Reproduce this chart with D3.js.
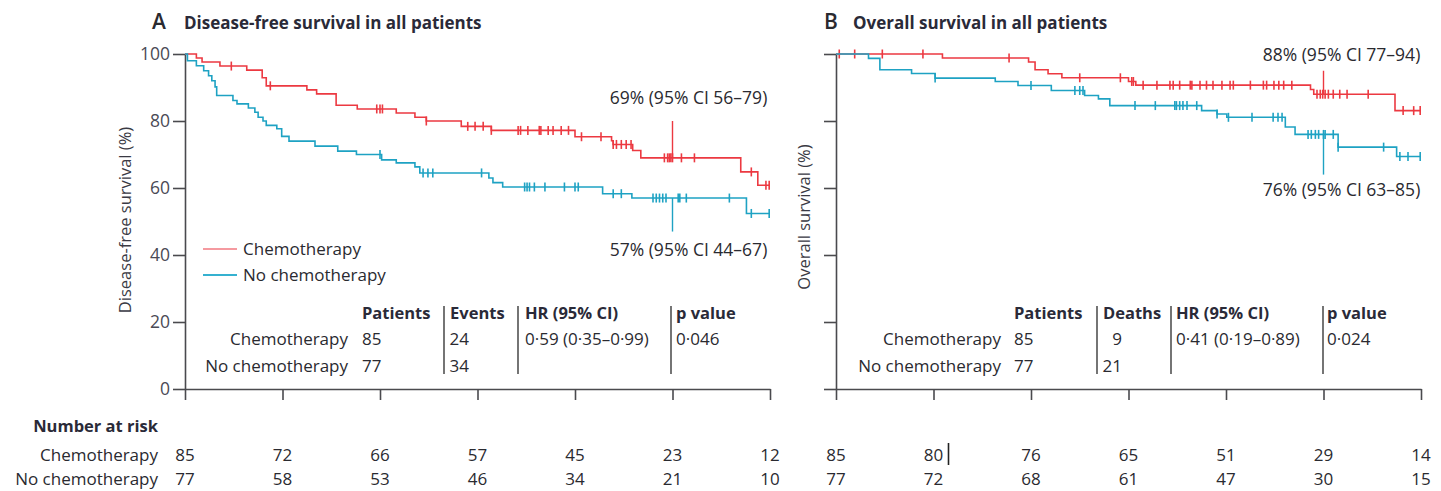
<!DOCTYPE html>
<html>
<head>
<meta charset="utf-8">
<script src="https://cdn.jsdelivr.net/npm/d3@7"></script>
<style>
  body { margin: 0; background: #fff; }
  svg text { font-family: "Open Sans", "DejaVu Sans", sans-serif; fill: #2a2a30; }
</style>
</head>
<body>
<svg id="chart" width="1441" height="491"></svg>
<script>
// Follow-up time in months; axis ticks every 12 months
const timeTicks = [0, 12, 24, 36, 48, 60, 72];
const survTicks = [0, 20, 40, 60, 80, 100];
const maxTime = 72;

// Disease-free survival, Kaplan–Meier steps: [month, survival %]
const dfsChemo = [[0,100],[1.4,98.8],[2.1,97.6],[4.3,96.4],[7.6,95.2],[9.5,92.9],[10.0,90.5],[15.0,89.3],[16.2,88.1],[18.6,84.7],[21.2,83.6],[26.0,82.4],[28.3,81.1],[29.7,80.0],[34.0,78.4],[37.7,77.2],[48.0,75.3],[52.5,74.1],[52.7,73.0],[55.1,71.2],[56.1,69.0],[68.4,64.8],[70.5,60.8]];
const dfsChemoCensored = [5.7,10.5,23.6,24.0,24.3,29.7,34.8,35.7,36.7,37.7,41.0,41.3,42.2,43.6,43.8,44.7,45.3,46.3,47.2,48.8,51.2,52.7,53.1,53.7,54.3,54.9,59.0,59.4,59.6,59.8,60.0,61.1,62.7,69.7,71.5,71.9];
const dfsNone = [[0,100],[0.3,98.0],[1.4,96.5],[2.3,95.0],[2.9,93.5],[3.3,92.0],[3.7,90.2],[3.9,87.6],[5.9,86.1],[6.4,85.1],[7.8,83.9],[8.6,82.6],[9.0,81.1],[9.6,80.0],[10.0,78.7],[11.3,77.7],[11.9,75.4],[12.8,74.0],[16.0,72.5],[18.8,71.0],[21.1,70.0],[24.2,68.4],[26.0,67.5],[28.3,66.3],[28.9,64.5],[37.4,63.0],[37.9,61.6],[39.1,60.3],[51.4,58.3],[55.0,57.0],[69.1,52.4]];
const dfsNoneCensored = [24.0,29.3,29.9,30.5,36.5,41.8,42.1,42.4,43.0,44.3,46.7,48.0,48.4,52.7,53.7,57.6,58.0,58.4,58.8,59.2,60.7,60.9,61.7,67.0,69.7,71.9];

// Overall survival, Kaplan–Meier steps: [month, survival %]
const osChemo = [[0,100],[13.1,98.8],[23.7,97.6],[24.5,95.3],[26.1,94.1],[27.8,92.9],[36.0,91.8],[36.9,90.7],[58.4,89.4],[58.8,88.0],[68.8,83.1]];
const osChemoCensored = [0.4,2.3,5.7,10.7,21.3,30.0,35.0,36.4,36.6,37.8,39.5,41.1,41.5,42.3,43.6,43.8,44.8,45.6,46.4,47.5,48.5,48.9,51.0,52.6,53.0,53.9,54.5,55.1,56.1,59.2,59.6,59.9,60.2,60.6,61.2,62.0,62.9,65.5,69.8,71.1,71.9];
const osNone = [[0,100],[4.0,98.7],[5.4,95.3],[9.3,94.2],[12.2,92.8],[19.6,91.8],[22.4,90.6],[26.5,89.1],[30.6,87.6],[32.3,86.6],[33.7,84.6],[45.0,83.1],[46.9,82.1],[48.1,81.1],[55.3,78.2],[56.5,76.0],[61.8,72.2],[69.0,69.4]];
const osNoneCensored = [12.2,24.0,29.4,30.0,30.4,36.8,39.3,41.7,41.9,42.3,42.7,43.2,44.4,46.9,48.3,51.2,53.8,54.4,54.9,58.1,58.5,59.0,59.4,60.0,60.2,61.2,61.8,67.4,69.4,70.4,71.9];

// 5-year estimates with their labels and leader-line end points (%)
const dfsEstimates = [
  { group: "chemo", time: 60, value: 69, lineTo: 80, label: "69% (95% CI 56–79)" },
  { group: "none",  time: 60, value: 57, lineTo: 47, label: "57% (95% CI 44–67)" }
];
const osEstimates = [
  { group: "chemo", time: 60, value: 88, lineTo: 95, label: "88% (95% CI 77–94)" },
  { group: "none",  time: 60, value: 76, lineTo: 64, label: "76% (95% CI 63–85)" }
];

// Number at risk at each time tick
const groupNames = ["Chemotherapy", "No chemotherapy"];
const dfsRiskChemo = [85, 72, 66, 57, 45, 23, 12];
const dfsRiskNone  = [77, 58, 53, 46, 34, 21, 10];
const osRiskChemo  = [85, 80, 76, 65, 51, 29, 14];
const osRiskNone   = [77, 72, 68, 61, 47, 30, 15];

// Summary tables
const dfsTableHead = ["Patients", "Events", "HR (95% CI)", "p value"];
const dfsTableChemo = ["85", "24", "0·59 (0·35–0·99)", "0·046"];
const dfsTableNone  = ["77", "34", "", ""];
const osTableHead = ["Patients", "Deaths", "HR (95% CI)", "p value"];
const osTableChemo = ["85", "9", "0·41 (0·19–0·89)", "0·024"];
const osTableNone  = ["77", "21", "", ""];

const colors = { chemo: "#ec3941", none: "#1ea2c3", axis: "#4a4a4e" };

const svg = d3.select("#chart");

const yScale = d3.scaleLinear().domain([0, 100]).range([389, 54]);

function valueAt(steps, t) {
  let v = 100;
  for (const [s, val] of steps) if (s <= t) v = val;
  return v;
}

function drawPanel(opt) {
  const x = d3.scaleLinear().domain([0, maxTime]).range(opt.xRange);
  const y = yScale;
  const g = svg.append("g");

  // Axes
  const yAxis = d3.axisLeft(y).tickValues(survTicks).tickSize(12).tickSizeOuter(0).tickPadding(3)
    .tickFormat(opt.yLabels ? d3.format("d") : () => "");
  const xAxis = d3.axisBottom(x).tickValues(timeTicks).tickSize(11).tickSizeOuter(0).tickFormat(() => "");
  const gx = g.append("g").attr("transform", `translate(0,${y(0)})`).call(xAxis);
  const gy = g.append("g").attr("transform", `translate(${x(0)},0)`).call(yAxis);
  [gx, gy].forEach(a => {
    a.select(".domain").attr("stroke", colors.axis).attr("stroke-width", 1.6);
    a.selectAll(".tick line").attr("stroke", colors.axis).attr("stroke-width", 1.6);
    a.selectAll(".tick text").attr("font-size", 17.5).attr("font-family", "Open Sans").style("fill", "#4a4a55");
  });

  // Y-axis title
  g.append("text")
    .attr("transform", `translate(${opt.yTitleX},${opt.yTitleY}) rotate(-90)`)
    .attr("text-anchor", "middle").attr("font-size", 16.5).style("fill", "#3a3a44")
    .text(opt.yTitle);

  // Panel title
  g.append("text").attr("x", opt.letterX).attr("y", 29)
    .attr("font-size", 21).attr("font-weight", 600).text(opt.letter);
  g.append("text").attr("x", opt.titleX).attr("y", 29)
    .attr("font-size", 17).attr("font-weight", 700).style("fill", "#2a2a38").text(opt.title);

  // Survival curves
  const line = d3.line().x(d => x(d[0])).y(d => y(d[1])).curve(d3.curveStepAfter);
  opt.series.forEach(s => {
    const pts = s.steps.concat([[maxTime, s.steps[s.steps.length - 1][1]]]);
    g.append("path").datum(pts).attr("d", line)
      .attr("fill", "none").attr("stroke", colors[s.key]).attr("stroke-width", 1.6);
    g.append("g").selectAll("line").data(s.censored).join("line")
      .attr("x1", d => x(d)).attr("x2", d => x(d))
      .attr("y1", d => y(valueAt(s.steps, d)) - 4.5)
      .attr("y2", d => y(valueAt(s.steps, d)) + 4.5)
      .attr("stroke", colors[s.key]).attr("stroke-width", 1.6);
  });

  // 5-year estimate leaders and labels
  opt.estimates.forEach((e, i) => {
    g.append("line")
      .attr("x1", x(e.time)).attr("x2", x(e.time))
      .attr("y1", y(e.value)).attr("y2", y(e.lineTo))
      .attr("stroke", colors[e.group]).attr("stroke-width", 1.4);
    g.append("text").attr("x", x(e.time) + opt.labelDx).attr("y", opt.labelY[i])
      .attr("text-anchor", "middle").attr("font-size", 17.5).text(e.label);
  });

  // Summary table
  const tbl = g.append("g");
  const rowY = [319, 345, 372];
  const cx = opt.tableCols;
  tbl.selectAll("text.head").data(opt.tableHead).join("text")
    .attr("x", (d, i) => cx[i]).attr("y", rowY[0])
    .attr("font-size", 16.5).attr("font-weight", 700).style("fill", "#2a2a38").text(d => d);
  [opt.tableChemo, opt.tableNone].forEach((row, r) => {
    tbl.append("text").attr("x", opt.tableNameX).attr("y", rowY[r + 1])
      .attr("text-anchor", "end").attr("font-size", 17).text(groupNames[r]);
    row.forEach((cell, i) => {
      tbl.append("text")
        .attr("x", i === 1 ? cx[1] + 19 : cx[i]).attr("y", rowY[r + 1])
        .attr("text-anchor", i === 1 ? "end" : "start")
        .attr("font-size", 17).text(cell);
    });
  });
  opt.tableRules.forEach(xr => {
    tbl.append("line").attr("x1", xr).attr("x2", xr).attr("y1", 306).attr("y2", 374)
      .attr("stroke", "#3a3a3a").attr("stroke-width", 1.4);
  });

  // Number at risk
  const risk = g.append("g");
  [opt.riskChemo, opt.riskNone].forEach((vals, r) => {
    risk.selectAll(null).data(vals).join("text")
      .attr("x", (d, i) => x(timeTicks[i])).attr("y", 461 + r * 24)
      .attr("text-anchor", "middle").attr("font-size", 17).text(d => d);
  });

  return x;
}

// Panel A
const xA = drawPanel({
  xRange: [185, 770], yLabels: true,
  yTitle: "Disease-free survival (%)", yTitleX: 131, yTitleY: 220,
  letter: "A", letterX: 152, title: "Disease-free survival in all patients", titleX: 184,
  series: [
    { key: "chemo", steps: dfsChemo, censored: dfsChemoCensored },
    { key: "none", steps: dfsNone, censored: dfsNoneCensored }
  ],
  estimates: dfsEstimates, labelDx: 16, labelY: [104, 256],
  tableHead: dfsTableHead, tableChemo: dfsTableChemo, tableNone: dfsTableNone,
  tableCols: [362, 450, 525, 676], tableNameX: 348, tableRules: [444, 518, 671],
  riskChemo: dfsRiskChemo, riskNone: dfsRiskNone
});

// Panel B
const xB = drawPanel({
  xRange: [836, 1421], yLabels: false,
  yTitle: "Overall survival (%)", yTitleX: 810, yTitleY: 217,
  letter: "B", letterX: 824, title: "Overall survival in all patients", titleX: 853,
  series: [
    { key: "chemo", steps: osChemo, censored: osChemoCensored },
    { key: "none", steps: osNone, censored: osNoneCensored }
  ],
  estimates: osEstimates, labelDx: 18, labelY: [61, 196],
  tableHead: osTableHead, tableChemo: osTableChemo, tableNone: osTableNone,
  tableCols: [1014, 1103, 1176, 1327], tableNameX: 1001, tableRules: [1097, 1171, 1323],
  riskChemo: osRiskChemo, riskNone: osRiskNone
});

// Legend (panel A)
const legend = svg.append("g").attr("transform", "translate(203,249)");
[["chemo", "#f59aa0"], ["none", "#35b1d0"]].forEach(([key, c], i) => {
  legend.append("line").attr("x1", 0).attr("x2", 34).attr("y1", i * 26).attr("y2", i * 26)
    .attr("stroke", c).attr("stroke-width", 2);
  legend.append("text").attr("x", 40).attr("y", i * 26 + 6)
    .attr("font-size", 17).text(groupNames[i]);
});

// Number-at-risk heading and row names
svg.append("text").attr("x", 158).attr("y", 432).attr("text-anchor", "end")
  .attr("font-size", 16.5).attr("font-weight", 700).style("fill", "#2a2a38").text("Number at risk");
groupNames.forEach((n, r) => {
  svg.append("text").attr("x", 158).attr("y", 461 + r * 24).attr("text-anchor", "end")
    .attr("font-size", 17).text(n);
});

// Thin rule next to the 12-month overall-survival count
svg.append("line").attr("x1", xB(12) + 15).attr("x2", xB(12) + 15)
  .attr("y1", 443).attr("y2", 465).attr("stroke", "#222").attr("stroke-width", 1.6);
</script>
</body>
</html>
